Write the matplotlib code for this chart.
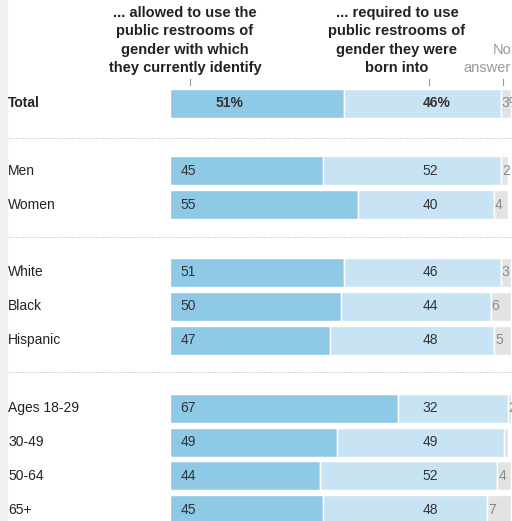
import numpy as np
import matplotlib.pyplot as plt

# dados
grupos = ['Total', 'Men', 'Women', 'White', 'Black', 'Hispanic',
          'Ages 18-29', '30-49', '50-64', '65+']
permitido = [51, 45, 55, 51, 50, 47, 67, 49, 44, 45]
obrigado = [46, 52, 40, 46, 44, 48, 32, 49, 52, 48]
sem_resposta = [3, 2, 4, 3, 6, 5, 2, 1, 4, 7]
rotulos_sem = ['3%', '2', '4', '3', '6', '5', '2', '', '4', '7']

cabecalhos = ['... allowed to use the\npublic restrooms of\ngender with which\nthey currently identify',
              '... required to use\npublic restrooms of\ngender they were\nborn into',
              'No\nanswer']

cor1 = '#8ecae6'
cor2 = '#c8e3f3'
cor3 = '#e3e3e3'
texto = '#333333'

plt.rcParams['font.family'] = ['Liberation Sans', 'DejaVu Sans']

W, H = 512, 521
fig = plt.figure(figsize=(W / 100, H / 100), dpi=100)

# faixa cinza na borda esquerda
fig.patches.append(plt.Rectangle((0, 0), 7 / W, 1, transform=fig.transFigure,
                                 color='#f1f1f1', zorder=0))

# eixo: x 0-100 -> pixels 170-511, y em pixels
X0 = 170
ax = fig.add_axes([X0 / W, 0, 341 / W, 1])
ax.set_xlim(0, 100)
ax.set_ylim(H, 0)
ax.axis('off')

slots = [0, 2, 3, 5, 6, 7, 9, 10, 11, 12]
ys = np.array([103 + s * 33.9 for s in slots])
alt = 29

p1 = np.array(permitido)
p2 = np.array(obrigado)
p3 = np.array(sem_resposta)

ax.barh(ys, p1, height=alt, color=cor1, edgecolor='white', linewidth=1)
ax.barh(ys, p2, left=p1, height=alt, color=cor2, edgecolor='white', linewidth=1)
ax.barh(ys, p3, left=p1 + p2, height=alt, color=cor3, edgecolor='white', linewidth=1)

def x_dado(px):
    return (px - X0) / 341 * 100

for i, y in enumerate(ys):
    negrito = 'bold' if i == 0 else 'normal'
    s1 = f'{permitido[i]}%' if i == 0 else str(permitido[i])
    s2 = f'{obrigado[i]}%' if i == 0 else str(obrigado[i])
    x1 = x_dado(230) if i == 0 else x_dado(188)
    x2 = x_dado(437) if i == 0 else x_dado(430)
    ax.text(x1, y, s1, ha='center', va='center', fontsize=10, color=texto, fontweight=negrito)
    ax.text(x2, y, s2, ha='center', va='center', fontsize=10, color=texto, fontweight=negrito)
    ax.text(p1[i] + p2[i] + 0.3, y, rotulos_sem[i], ha='left', va='center',
            fontsize=10, color='#8a8a8a', clip_on=False)
    # rótulo da linha
    fig.text(8 / W, 1 - y / H, grupos[i], ha='left', va='center', fontsize=10,
             color='#222222', fontweight=negrito)

# separadores pontilhados
for ysep in [138, 237, 372]:
    fig.add_artist(plt.Line2D([8 / W, 1], [1 - ysep / H] * 2, transform=fig.transFigure,
                              color='#b5b5b5', linestyle=(0, (1, 1.5)), linewidth=0.7))

# cabeçalhos
pos_cab = [185, 397, 511]
alinh = ['center', 'center', 'right']
pos_tick = [190, 429, 503]
for j, cab in enumerate(cabecalhos):
    cor = '#999999' if j == 2 else '#222222'
    peso = 'normal' if j == 2 else 'bold'
    fig.text(pos_cab[j] / W, 1 - 75 / H, cab, ha=alinh[j], va='bottom', fontsize=10.5,
             color=cor, fontweight=peso, linespacing=1.4, multialignment=alinh[j])
    fig.add_artist(plt.Line2D([pos_tick[j] / W] * 2, [1 - 79 / H, 1 - 85 / H],
                              transform=fig.transFigure, color='#999999', linewidth=0.8))

fig.savefig('out.png', dpi=100)
